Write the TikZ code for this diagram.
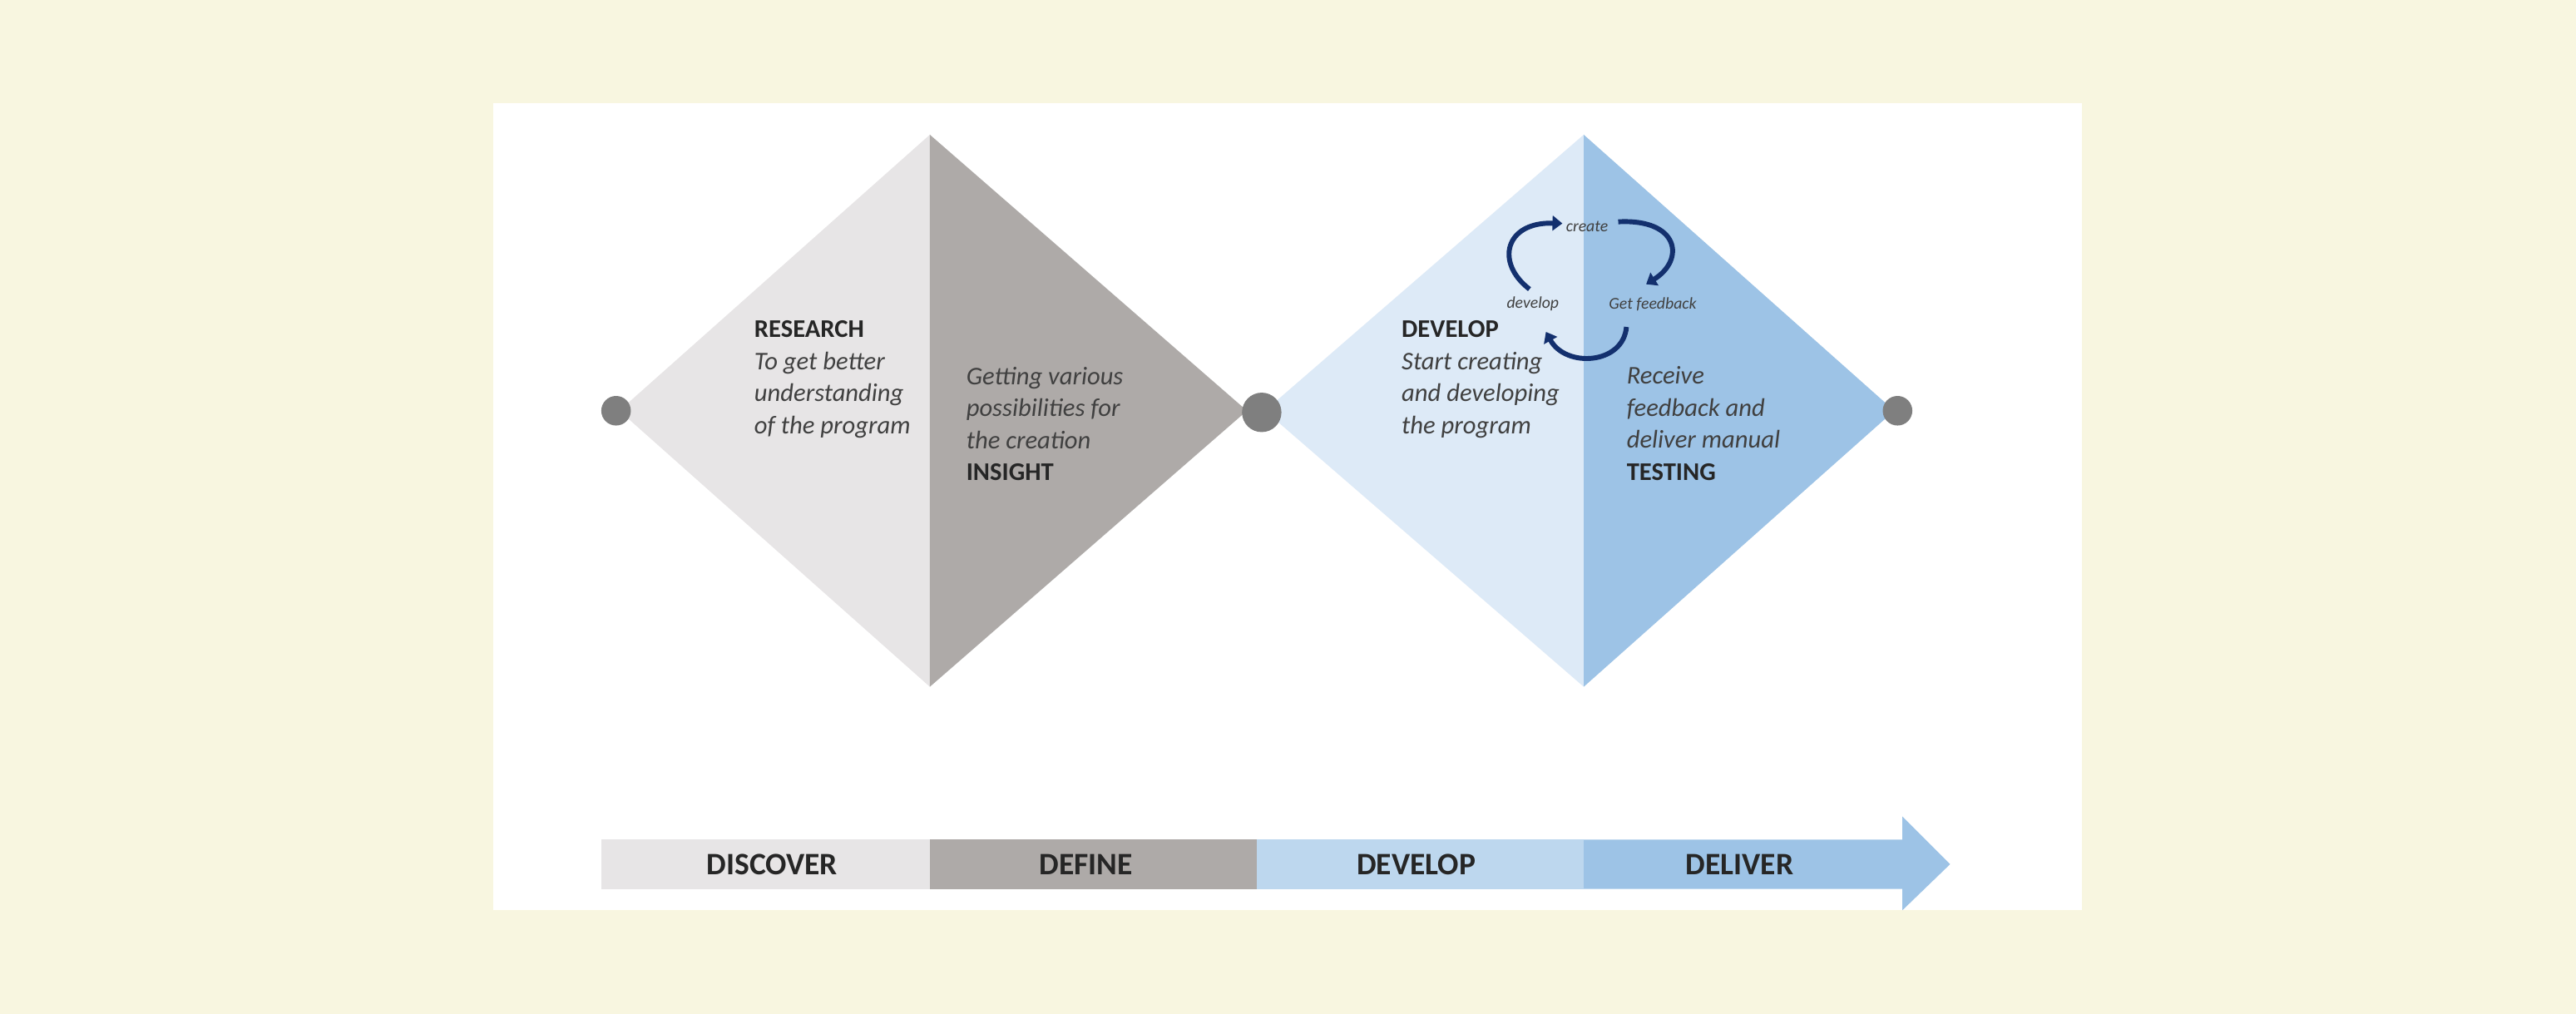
\documentclass[tikz,border=0pt]{standalone}
\usepackage{fontspec}
\setmainfont{Carlito}
\usetikzlibrary{arrows.meta}
\definecolor{bgcream}{HTML}{F8F6E0}
\definecolor{grayL}{HTML}{E7E5E6}
\definecolor{grayD}{HTML}{AEAAA8}
\definecolor{blueL}{HTML}{DDEAF7}
\definecolor{blueD}{HTML}{9DC3E6}
\definecolor{barDev}{HTML}{BDD7EE}
\definecolor{dotgray}{HTML}{7F7F7F}
\definecolor{navy}{HTML}{13306E}
\definecolor{txtdark}{HTML}{262626}
\definecolor{txtgray}{HTML}{404040}
\begin{document}
\begin{tikzpicture}[x=1pt,y=-1pt,
  bodytext/.style={inner sep=0pt, align=left, text=txtgray,
    font=\fontsize{15.5}{19.5}\selectfont\itshape},
  looplabel/.style={inner sep=0pt, text=txtgray, font=\fontsize{10}{12}\selectfont\itshape},
  barlabel/.style={inner sep=0pt, text=txtdark, font=\fontsize{19}{22}\selectfont\bfseries},
  looparc/.style={draw=navy, line width=3pt, -{Triangle[length=6pt,width=9pt]}},
  dotnode/.style={circle, fill=dotgray, inner sep=0pt}]
\useasboundingbox (0,0) rectangle (1568,617);
\fill[bgcream] (0,0) rectangle (1568,617);
\fill[white] (300,63) rectangle (1267,554);
% left diamond
\fill[grayL] (377,250) -- (566,82) -- (566,418) -- cycle;
\fill[grayD] (566,82) -- (759,250) -- (566,418) -- cycle;
% right diamond
\fill[blueL] (770,250) -- (964,82) -- (964,418) -- cycle;
\fill[blueD] (964,82) -- (1153,250) -- (964,418) -- cycle;
% dots
\node[dotnode, minimum size=18pt] (dotA) at (375,250) {};
\node[dotnode, minimum size=24pt] (dotB) at (768,251) {};
\node[dotnode, minimum size=18pt] (dotC) at (1155,250) {};
% texts
\node[bodytext, anchor=north west] (research) at (459,195)
  {{\upshape\bfseries\color{txtdark}RESEARCH}\\To get better\\understanding\\of the program};
\node[bodytext, anchor=north west] (insight) at (588,223)
  {Getting various\\possibilities for\\the creation\\{\upshape\bfseries\color{txtdark}INSIGHT}};
\node[bodytext, anchor=north west] (develop) at (853,195)
  {{\upshape\bfseries\color{txtdark}DEVELOP}\\Start creating\\and developing\\the program};
\node[bodytext, anchor=north west] (testing) at (990,223)
  {Receive\\feedback and\\deliver manual\\{\upshape\bfseries\color{txtdark}TESTING}};
% loop
\node[looplabel] (create) at (966,138) {create};
\node[looplabel] (dev) at (933,185) {develop};
\node[looplabel] (feed) at (1006,185) {Get feedback};
\coordinate (a1s) at (931,176);
\coordinate (a1e) at (951,136);
\coordinate (a2s) at (985,135);
\coordinate (a2e) at (1002,173);
\coordinate (a3s) at (990,199);
\coordinate (a3e) at (941,202);
\draw[looparc] (a1s) .. controls (910,160) and (916,135) .. (a1e);
\draw[looparc] (a2s) .. controls (1022,133) and (1026,158) .. (a2e);
\draw[looparc] (a3s) .. controls (988,222) and (953,224) .. (a3e);
% bottom bar
\fill[grayL] (366,511) rectangle (566,541);
\fill[grayD] (566,511) rectangle (765,541);
\fill[barDev] (765,511) rectangle (964,541);
\fill[blueD] (964,511) -- (1158,511) -- (1158,497) -- (1187,526) -- (1158,554) -- (1158,541) -- (964,541) -- cycle;
\node[barlabel] (discover) at (470,526) {DISCOVER};
\node[barlabel] (define) at (661,526) {DEFINE};
\node[barlabel] (develop2) at (862,526) {DEVELOP};
\node[barlabel] (deliver) at (1059,526) {DELIVER};
\end{tikzpicture}
\end{document}
